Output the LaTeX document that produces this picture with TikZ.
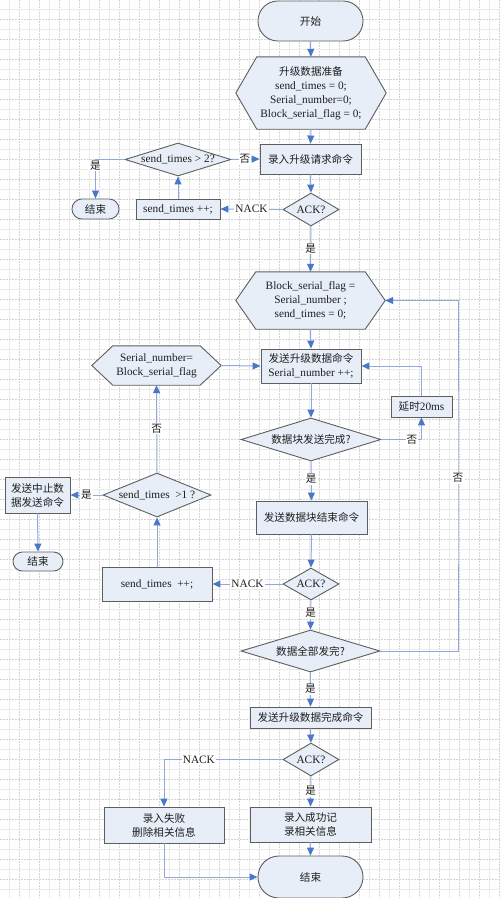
\documentclass[tikz,border=0pt]{standalone}
\usepackage{fontspec}
\setmainfont{Liberation Serif}
\newfontfamily\zhfont{Noto Sans CJK SC}
\usetikzlibrary{arrows.meta,shapes.geometric,calc}
\pgfdeclarelayer{bg}
\pgfsetlayers{bg,main}
\definecolor{fillc}{HTML}{E8EEF8}
\definecolor{edgec}{HTML}{5E5E5E}
\definecolor{linec}{HTML}{8EAADB}
\definecolor{tipc}{HTML}{4A78C8}
\definecolor{gridA}{HTML}{EBEBEB}
\definecolor{gridB}{HTML}{D4D4D4}
\definecolor{txt}{HTML}{1E1E1E}
\newcommand\zh[1]{{\zhfont\fontsize{10.6pt}{14pt}\selectfont #1}}
\newcommand\hexshape[2]{%
  \begin{pgfonlayer}{bg}
  \draw[draw=edgec, fill=fillc, line width=0.9pt]
    ($(#1.north west)+(#2,0)$) -- ($(#1.north east)+(-#2,0)$) -- (#1.east)
    -- ($(#1.south east)+(-#2,0)$) -- ($(#1.south west)+(#2,0)$) -- (#1.west) -- cycle;
  \end{pgfonlayer}}
\tikzset{
  base/.style={draw=edgec, fill=fillc, line width=0.9pt, inner sep=0pt, text=txt,
    font=\fontsize{11.3pt}{14pt}\selectfont},
  proc/.style={base, rectangle, align=center},
  term/.style={base, rectangle, rounded corners=#1, align=center},
  dec/.style={base, diamond},
  hexa/.style={rectangle, inner sep=0pt, text=txt, align=center,
    font=\fontsize{11.3pt}{14pt}\selectfont},
  conn/.style={draw=linec, line width=1pt, -{Triangle[length=8pt,width=7pt,color=tipc]}},
  lab/.style={fill=white, inner sep=1pt, text=txt, font=\fontsize{11.3pt}{14pt}\selectfont},
}
\begin{document}
\begin{tikzpicture}[x=1pt,y=-1pt]
\useasboundingbox (0,0) rectangle (500,898);
\begin{pgfonlayer}{bg}
  \fill[white] (0,0) rectangle (500,898);
  \foreach \x in {9.5,29.5,...,499.5} \draw[gridA, line width=1pt] (\x,0) -- (\x,898);
  \foreach \x in {19.5,39.5,...,499.5} \draw[gridB, line width=0.7pt, dash pattern=on 1.5pt off 1.5pt] (\x,0) -- (\x,898);
  \foreach \y in {9.5,29.5,...,897.5} \draw[gridA, line width=1pt] (0,\y) -- (500,\y);
  \foreach \y in {19.5,39.5,...,897.5} \draw[gridB, line width=0.7pt, dash pattern=on 1.5pt off 1.5pt] (0,\y) -- (500,\y);
\end{pgfonlayer}

% nodes
\node[term=19.9pt, minimum width=105pt, minimum height=40pt] (start) at (310.5,21) {\zh{开始}};
\node[hexa, minimum width=150pt, minimum height=72pt] (hex1) at (311,93)
  {\zh{升级数据准备}\\send\_times = 0;\\Serial\_number=0;\\Block\_serial\_flag = 0;};
\hexshape{hex1}{21}
\node[proc, minimum width=101pt, minimum height=30pt] (req) at (310.5,159) {\zh{录入升级请求命令}};
\node[dec, minimum width=106pt, minimum height=33pt] (d1) at (178,159.5) {\makebox[0pt]{send\_times > 2?}};
\node[term=9.9pt, minimum width=47pt, minimum height=20pt] (end1) at (95.5,209) {\zh{结束}};
\node[proc, minimum width=84pt, minimum height=20pt] (inc1) at (178,209) {send\_times ++;};
\node[dec, minimum width=56pt, minimum height=33pt] (ack1) at (311,209.5) {\makebox[0pt]{ACK?}};

\node[hexa, minimum width=149pt, minimum height=57pt] (hex2) at (310.5,300.5)
  {Block\_serial\_flag =\\Serial\_number ;\\send\_times = 0;};
\hexshape{hex2}{20}
\node[proc, minimum width=100pt, minimum height=34pt] (send) at (311,366)
  {\zh{发送升级数据命令}\\Serial\_number ++;};
\node[hexa, minimum width=129pt, minimum height=39pt] (hex3) at (156.5,365.5)
  {Serial\_number=\\Block\_serial\_flag};
\hexshape{hex3}{21}
\node[proc, minimum width=61pt, minimum height=21pt] (delay) at (421.5,406.5) {\zh{延时}20ms};
\node[dec, minimum width=140pt, minimum height=43pt] (d2) at (311,439.5) {\makebox[0pt]{\zh{数据块发送完成?}}};
\node[proc, minimum width=111pt, minimum height=33pt] (blkend) at (311.5,517.5) {\zh{发送数据块结束命令}};
\node[dec, minimum width=108pt, minimum height=44pt] (d3) at (157,495) {\makebox[0pt]{send\_times\ \ >1 ?}};
\node[proc, minimum width=65pt, minimum height=36pt] (abort) at (37.5,495) {\zh{发送中止数}\\\zh{据发送命令}};
\node[term=9.4pt, minimum width=50pt, minimum height=19pt] (end2) at (38,561.5) {\zh{结束}};
\node[proc, minimum width=110pt, minimum height=34pt] (inc2) at (157,584) {send\_times\ \ ++;};
\node[dec, minimum width=56pt, minimum height=32pt] (ack2) at (311,584) {\makebox[0pt]{ACK?}};
\node[dec, minimum width=139pt, minimum height=42pt] (d4) at (310.5,651) {\makebox[0pt]{\zh{数据全部发完?}}};
\node[proc, minimum width=121pt, minimum height=21pt] (done) at (310.5,717.5) {\zh{发送升级数据完成命令}};
\node[dec, minimum width=56pt, minimum height=33pt] (ack3) at (311,759.5) {\makebox[0pt]{ACK?}};
\node[proc, minimum width=120pt, minimum height=36pt] (fail) at (164,825) {\zh{录入失败}\\\zh{删除相关信息}};
\node[proc, minimum width=121pt, minimum height=35pt] (ok) at (310.5,824.5) {\zh{录入成功记}\\\zh{录相关信息}};
\node[term=20.9pt, minimum width=105pt, minimum height=42pt] (end3) at (310.5,877) {\zh{结束}};
\coordinate (rt) at (458,478);

% connectors
\draw[conn] (start.south) -- (hex1.north);
\draw[conn] (hex1.south) -- (req.north);
\draw[conn] (d1.east) -- node[lab,pos=0.48]{\zh{否}} (req.west);
\draw[conn] (d1.west) -| node[lab,pos=0.575]{\zh{是}} (end1.north);
\draw[conn] (inc1.north) -- (d1.south);
\draw[conn] (req.south) -- (ack1.north);
\draw[conn] (ack1.west) -- node[lab,pos=0.5]{NACK} (inc1.east);
\draw[conn] (ack1.south) -- node[lab,pos=0.48]{\zh{是}} (hex2.north);
\draw[conn] (hex2.south) -- (send.north);
\draw[conn] (hex3.east) -- (send.west);
\draw[conn] (send.south) -- (d2.north);
\draw[conn] (d2.east) -| node[lab,pos=0.38]{\zh{否}} (delay.south);
\draw[conn] (delay.north) |- (send.east);
\draw[conn] (d2.south) -- node[lab,pos=0.45]{\zh{是}} (blkend.north);
\draw[conn] (d3.north) -- node[lab,pos=0.5]{\zh{否}} (hex3.south);
\draw[conn] (d3.west) -- node[lab,pos=0.5]{\zh{是}} (abort.east);
\draw[conn] (abort.south) -- (end2.north);
\draw[conn] (inc2.north) -- (d3.south);
\draw[conn] (blkend.south) -- (ack2.north);
\draw[conn] (ack2.west) -- node[lab,pos=0.5]{NACK} (inc2.east);
\draw[conn] (ack2.south) -- node[lab,pos=0.43]{\zh{是}} (d4.north);
\draw[conn] (d4.east) -| (rt) node[lab]{\zh{否}} |- (hex2.east);
\draw[conn] (d4.south) -- node[lab,pos=0.49]{\zh{是}} (done.north);
\draw[conn] (done.south) -- (ack3.north);
\draw[conn] (ack3.west) -| node[lab,pos=0.353]{NACK} (fail.north);
\draw[conn] (ack3.south) -- node[lab,pos=0.48]{\zh{是}} (ok.north);
\draw[conn] (ok.south) -- (end3.north);
\draw[conn] (fail.south) |- (end3.west);
\end{tikzpicture}
\end{document}
